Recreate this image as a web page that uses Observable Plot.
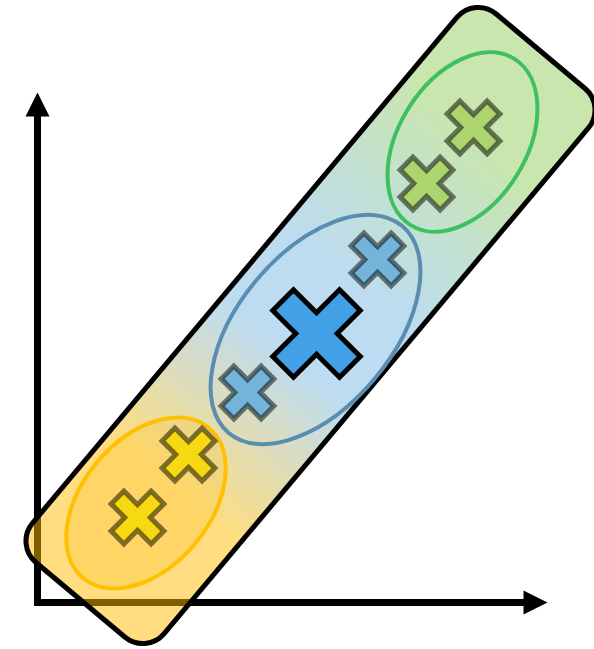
<!DOCTYPE html>
<html>
<head>
<meta charset="utf-8">
<script src="https://cdn.jsdelivr.net/npm/d3@7"></script>
<script src="https://cdn.jsdelivr.net/npm/@observablehq/plot@0.6"></script>
<style>
  html, body { margin: 0; padding: 0; background: #fff; }
  #chart svg { display: block; }
</style>
</head>
<body>
<div id="chart"></div>
<script>
// ---- data (origin of the two axes = 0,0; x to the right, y upward) ----
const groups = ["low", "mid", "high"];
const pointX = [100, 151, 210, 340, 389, 436];
const pointY = [85, 148, 210, 343, 419, 475];
const pointGroup = ["low", "low", "mid", "mid", "high", "high"];
const centroidX = [279];
const centroidY = [269];
const groupCenterX = [108.5, 278, 425];
const groupCenterY = [99.5, 273, 460.5];
const bandX = [273];
const bandY = [277];
const axisNames = ["y", "x"];
const axisTipX = [0, 510];
const axisTipY = [510, 0];

// ---- tables built from the arrays ----
const points = pointX.map((x, i) => ({x, y: pointY[i], group: pointGroup[i]}));
const centroid = centroidX.map((x, i) => ({x, y: centroidY[i]}));
const clusters = groups.map((g, i) => ({group: g, x: groupCenterX[i], y: groupCenterY[i]}));
const band = bandX.map((x, i) => ({x, y: bandY[i]}));
const axes = axisNames.map((a, i) => ({axis: a, x: axisTipX[i], y: axisTipY[i]}));

// ---- custom symbols ----
const plus = (ratio) => ({
  draw(ctx, size) {
    const r = Math.sqrt(size / Math.PI), h = r * ratio;
    ctx.moveTo(h, h); ctx.lineTo(r, h); ctx.lineTo(r, -h); ctx.lineTo(h, -h);
    ctx.lineTo(h, -r); ctx.lineTo(-h, -r); ctx.lineTo(-h, -h); ctx.lineTo(-r, -h);
    ctx.lineTo(-r, h); ctx.lineTo(-h, h); ctx.lineTo(-h, r); ctx.lineTo(h, r);
    ctx.closePath();
  }
});
const ellipse = (k) => ({
  draw(ctx, size) {
    const a = Math.sqrt(size / Math.PI), b = a * k, c = 0.5523;
    ctx.moveTo(a, 0);
    ctx.bezierCurveTo(a, b * c, a * c, b, 0, b);
    ctx.bezierCurveTo(-a * c, b, -a, b * c, -a, 0);
    ctx.bezierCurveTo(-a, -b * c, -a * c, -b, 0, -b);
    ctx.bezierCurveTo(a * c, -b, a, -b * c, a, 0);
    ctx.closePath();
  }
});
const roundRect = (k, kr) => ({
  draw(ctx, size) {
    const a = Math.sqrt(size / Math.PI), b = a * k, c = a * kr, P = Math.PI;
    ctx.moveTo(-a + c, -b);
    ctx.lineTo(a - c, -b);
    ctx.arc(a - c, -b + c, c, -P / 2, 0);
    ctx.lineTo(a, b - c);
    ctx.arc(a - c, b - c, c, 0, P / 2);
    ctx.lineTo(-a + c, b);
    ctx.arc(-a + c, b - c, c, P / 2, P);
    ctx.lineTo(-a, -b + c);
    ctx.arc(-a + c, -b + c, c, P, 1.5 * P);
    ctx.closePath();
  }
});
const head = {
  draw(ctx, size) {
    const L = Math.sqrt(size / Math.PI);
    ctx.moveTo(0, 0); ctx.lineTo(-L, -L / 2); ctx.lineTo(-L, L / 2); ctx.closePath();
  }
};

const headLen = 24;

const chart = Plot.plot({
  width: 594,
  height: 649,
  marginTop: 0, marginRight: 0, marginBottom: 0, marginLeft: 0,
  x: {domain: [-37, 557], range: [0, 594], axis: null},
  y: {domain: [-47, 602], range: [649, 0], axis: null},
  color: {domain: groups, range: ["#f6d912", "#74b4d8", "#acd46f"]},
  marks: [
    // axes
    Plot.link(axes, {
      x1: 0, y1: 0,
      x2: d => d.axis === "x" ? d.x - headLen * 0.75 : d.x,
      y2: d => d.axis === "y" ? d.y - headLen * 0.75 : d.y,
      stroke: "#000", strokeWidth: 7, strokeLinecap: "square"
    }),
    Plot.dot(axes, {
      x: "x", y: "y", symbol: head, r: headLen,
      rotate: d => d.axis === "y" ? -90 : 0,
      fill: "#000", stroke: "none"
    }),
    // band
    Plot.dot(band, {
      x: "x", y: "y", symbol: roundRect(0.24, 0.078), r: 358, rotate: -50,
      fill: "url(#band)", stroke: "#000", strokeWidth: 5
    }),
    // group ellipses
    Plot.dot(clusters.filter(d => d.group === "low"), {
      x: "x", y: "y", symbol: ellipse(0.65), r: 98, rotate: -50,
      fill: "#ffc000", fillOpacity: 0.2, stroke: "#ffc000", strokeWidth: 4
    }),
    Plot.dot(clusters.filter(d => d.group === "mid"), {
      x: "x", y: "y", symbol: ellipse(0.57), r: 135, rotate: -50,
      fill: "none", stroke: "#5a8db0", strokeWidth: 4
    }),
    Plot.dot(clusters.filter(d => d.group === "high"), {
      x: "x", y: "y", symbol: ellipse(0.65), r: 98, rotate: -58,
      fill: "none", stroke: "#3fbf60", strokeWidth: 4
    }),
    // points
    Plot.dot(points, {
      x: "x", y: "y", symbol: plus(0.32), r: 28.3, rotate: 45,
      fill: "group", stroke: "#000", strokeOpacity: 0.5, strokeWidth: 5,
      strokeLinejoin: "miter"
    }),
    // centroid
    Plot.dot(centroid, {
      x: "x", y: "y", symbol: plus(0.31), r: 47.2, rotate: 45,
      fill: "#42a0e6", stroke: "#000", strokeWidth: 5, strokeLinejoin: "miter"
    })
  ]
});

// gradient along the band's long side
const defs = d3.select(chart).insert("defs", ":first-child");
const grad = defs.append("linearGradient")
  .attr("id", "band").attr("x1", 0).attr("y1", 0).attr("x2", 1).attr("y2", 0);
[[0, "#ffbb00"], [0.2, "#ffbb00"], [0.45, "#7bb9e5"], [0.58, "#7bb9e5"], [0.85, "#91cd5d"], [1, "#91cd5d"]]
  .forEach(([o, c]) => grad.append("stop").attr("offset", o).attr("stop-color", c).attr("stop-opacity", 0.5));

document.getElementById("chart").appendChild(chart);
</script>
</body>
</html>
